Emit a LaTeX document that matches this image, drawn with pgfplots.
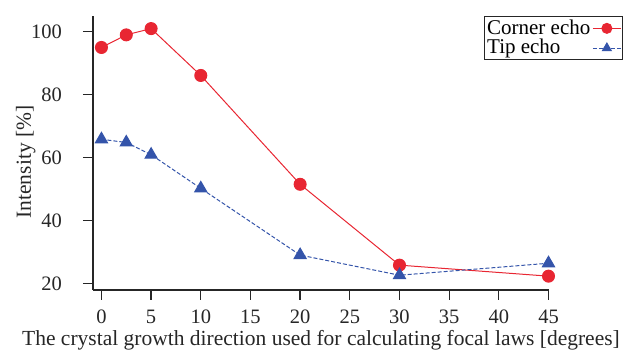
\documentclass[border=0pt]{standalone}
\usepackage{pgfplots}
\pgfplotsset{compat=1.18}
\usepackage{fontspec}
\setmainfont{Liberation Serif}
\definecolor{cred}{RGB}{232,38,50}
\definecolor{cblue}{RGB}{52,84,170}
\begin{document}
\fontsize{21}{24}\selectfont
\begin{tikzpicture}
\begin{axis}[
  name=ax,
  scale only axis,
  width=456pt, height=274pt,
  xmin=-0.85, xmax=45.05, ymin=17.9, ymax=105,
  axis x line*=bottom, axis y line*=left,
  axis line style={-, line width=1.3pt, black!85},
  tick style={line width=1.3pt, black!85},
  tick align=outside,
  major tick length=10pt,
  xtick={0,5,...,45}, ytick={20,40,...,100},
  /pgf/number format/assume math mode=true,
  ticklabel style={font=\fontsize{20.5}{23}\selectfont, text=black!85},
  xticklabel style={anchor=base, inner sep=0pt, yshift=-24pt},
  yticklabel style={anchor=east, xshift=-14pt},
  label style={font=\fontsize{21.5}{24}\selectfont, text=black!85},
  xlabel={The crystal growth direction used for calculating focal laws [degrees]},
  ylabel={Intensity [\%]},
  xlabel style={at={(axis description cs:0.5,0)}, anchor=base, inner sep=0pt, yshift=-56pt},
  ylabel style={at={(axis description cs:-0.1365,0.467)}, anchor=base},
  clip=false,
  legend plot pos=right,
  legend cell align=left,
  legend image code/.code={%
    \draw[#1, mark=none] (0pt,0pt) -- (28pt,0pt);
    \draw[#1, solid] plot[mark size=5pt] coordinates {(14pt,0pt)};},
  legend style={at={(1.162,1.0)}, anchor=north east, draw=black!85, line width=1pt,
    font=\fontsize{21}{24}\selectfont, inner sep=1pt, row sep=-2pt,
    /tikz/every even column/.append style={column sep=4pt}},
]
\addplot[cred, line width=1pt, mark=*, mark size=6pt, mark options={solid, fill=cred}]
  coordinates {(0,95.0) (2.5,99.0) (5,101.0) (10,86.1) (20,51.5) (30,25.8) (45,22.3)};
\addlegendentry{Corner echo}
\addplot[cblue, line width=1pt, dash pattern=on 4pt off 2pt, mark=triangle*, mark size=7pt, mark options={solid, fill=cblue}]
  coordinates {(0,65.8) (2.5,64.8) (5,60.9) (10,50.2) (20,29.0) (30,22.6) (45,26.4)};
\addlegendentry{Tip echo}
\end{axis}
\useasboundingbox ([xshift=-93pt,yshift=-59pt]ax.south west) rectangle ([xshift=76pt,yshift=16pt]ax.north east);
\end{tikzpicture}
\end{document}
